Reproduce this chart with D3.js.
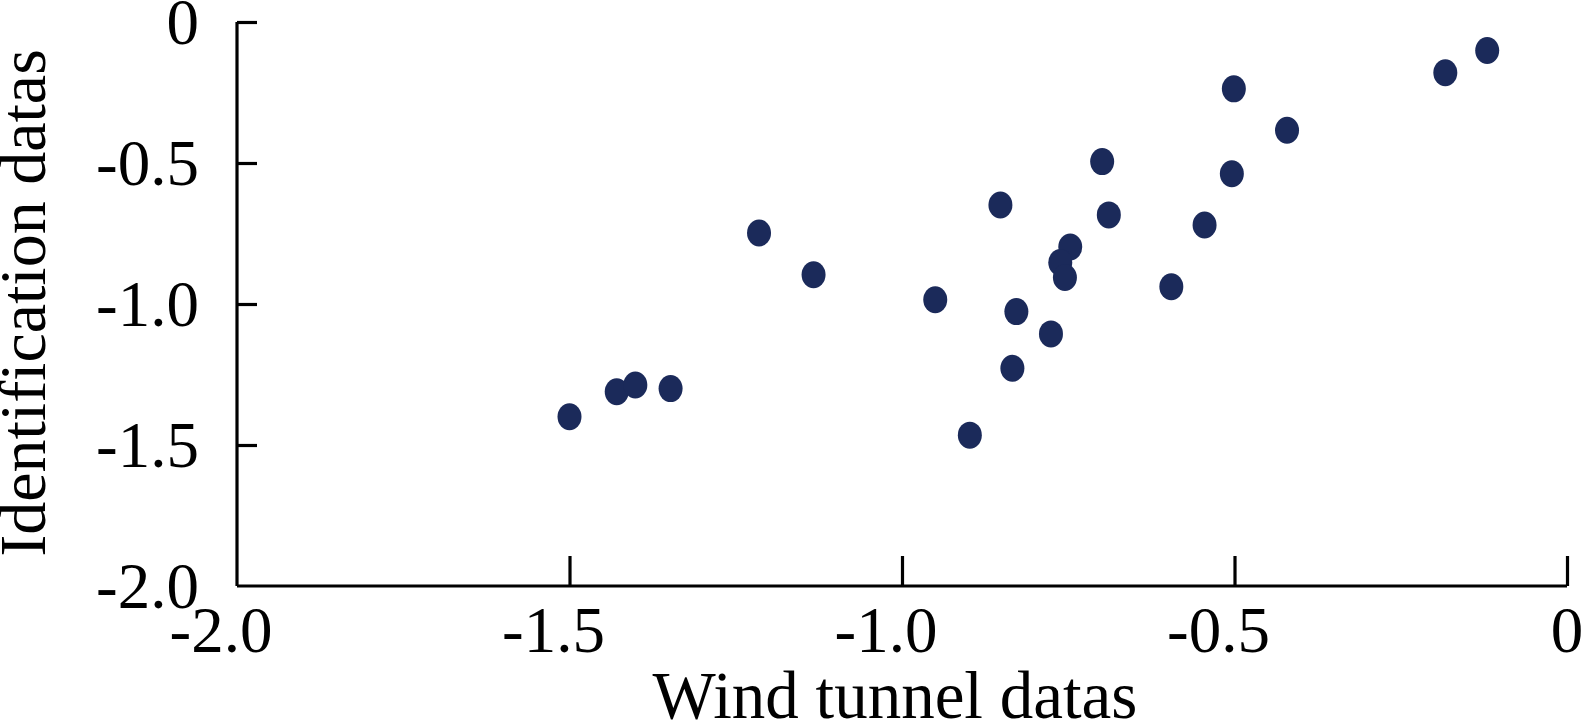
<!DOCTYPE html>
<html>
<head>
<meta charset="utf-8">
<script src="https://cdn.jsdelivr.net/npm/d3@7"></script>
<style>
html,body{margin:0;padding:0;background:#fff;}
svg{display:block;}
text{font-family:"Liberation Serif","Times New Roman",serif;fill:#000;}
</style>
</head>
<body>
<svg id="chart" width="1583" height="721"></svg>
<script>
// Data
const windTunnel = [-0.120, -0.183, -0.501, -0.421, -0.699, -0.504, -0.852, -0.689, -0.545, -1.215,
  -0.747, -0.762, -0.755, -1.133, -0.595, -0.950, -0.828, -0.776, -0.834, -0.898,
  -1.348, -1.500, -1.429, -1.401];
const identification = [-0.101, -0.180, -0.237, -0.384, -0.495, -0.538, -0.649, -0.684, -0.720, -0.748,
  -0.798, -0.853, -0.906, -0.896, -0.939, -0.985, -1.027, -1.106, -1.228, -1.465,
  -1.300, -1.400, -1.311, -1.287];
const xTicks = [-2.0, -1.5, -1.0, -0.5, 0];
const yTicks = [0, -0.5, -1.0, -1.5, -2.0];
const xTickLabels = ["-2.0", "-1.5", "-1.0", "-0.5", "0"];
const yTickLabels = ["0", "-0.5", "-1.0", "-1.5", "-2.0"];
const xTitle = "Wind tunnel datas";
const yTitle = "Identification datas";

const svg = d3.select("#chart");
const x = d3.scaleLinear().domain([-2, 0]).range([237, 1567]);
const y = d3.scaleLinear().domain([-2, 0]).range([586, 22]);

const axisColor = "#000";
const lw = 3.2;

// X axis: ticks point upward
const gx = svg.append("g").attr("transform", `translate(0,${y(-2)})`);
gx.call(d3.axisTop(x).tickValues(xTicks).tickSize(30).tickFormat(""));
gx.select(".domain").attr("d", `M${x(-2)},0H${x(0)}`).attr("stroke", axisColor).attr("stroke-width", lw);
gx.selectAll(".tick line").attr("stroke", axisColor).attr("stroke-width", lw)
  .filter(d => d === -2).remove();

// Y axis: ticks point right
const gy = svg.append("g").attr("transform", `translate(${x(-2)},0)`);
gy.call(d3.axisRight(y).tickValues(yTicks).tickSize(20).tickFormat(""));
gy.select(".domain").attr("d", `M0,${y(0)}V${y(-2)}`).attr("stroke", axisColor).attr("stroke-width", lw);
gy.selectAll(".tick line").attr("stroke", axisColor).attr("stroke-width", lw)
  .filter(d => d === -2).remove();

const fs = 65;
// X tick labels
svg.append("g").selectAll("text").data(xTicks).join("text")
  .attr("x", (d) => x(d) + (d < 0 ? -16 : 0))
  .attr("y", 652)
  .attr("text-anchor", "middle")
  .attr("font-size", fs)
  .text((d, i) => xTickLabels[i]);

// Y tick labels
svg.append("g").selectAll("text").data(yTicks).join("text")
  .attr("x", 199)
  .attr("y", d => y(d) + 22)
  .attr("text-anchor", "end")
  .attr("font-size", fs)
  .text((d, i) => yTickLabels[i]);

// Axis titles
svg.append("text")
  .attr("x", 895).attr("y", 718)
  .attr("text-anchor", "middle")
  .attr("font-size", 67)
  .text(xTitle);

svg.append("text")
  .attr("transform", `translate(45,303) rotate(-90)`)
  .attr("text-anchor", "middle")
  .attr("font-size", 66)
  .text(yTitle);

// Points
const pts = windTunnel.map((v, i) => ({wx: v, id: identification[i]}));
svg.append("g").selectAll("ellipse").data(pts).join("ellipse")
  .attr("cx", d => x(d.wx))
  .attr("cy", d => y(d.id))
  .attr("rx", 12)
  .attr("ry", 13.5)
  .attr("fill", "#1b2a5a");
</script>
</body>
</html>
